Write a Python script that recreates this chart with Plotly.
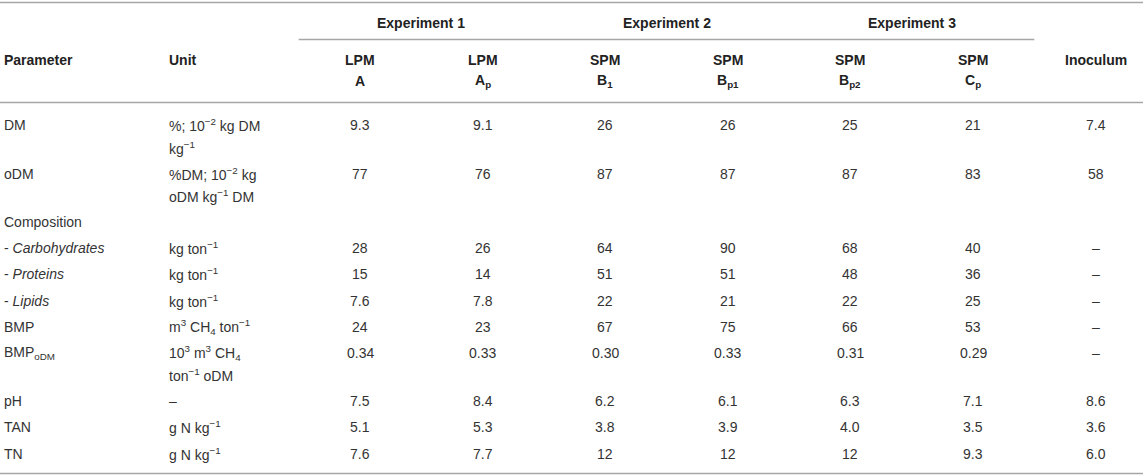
import plotly.graph_objects as go

# ---------------- data ----------------
experiments = ["Experiment 1", "Experiment 2", "Experiment 3"]
manure_types = ["LPM", "LPM", "SPM", "SPM", "SPM", "SPM"]
sample_ids = ["A", "A<sub>p</sub>", "B<sub>1</sub>", "B<sub>p1</sub>", "B<sub>p2</sub>", "C<sub>p</sub>"]
last_header = "Inoculum"

parameters = ["DM", "oDM", "Composition", "- <i>Carbohydrates</i>", "- <i>Proteins</i>",
              "- <i>Lipids</i>", "BMP", "BMP<sub>oDM</sub>", "pH", "TAN", "TN"]
units = [
    ["%; 10<sup>−2</sup> kg DM", "kg<sup>−1</sup>"],
    ["%DM; 10<sup>−2</sup> kg", "oDM kg<sup>−1</sup> DM"],
    [""],
    ["kg ton<sup>−1</sup>"],
    ["kg ton<sup>−1</sup>"],
    ["kg ton<sup>−1</sup>"],
    ["m<sup>3</sup> CH<sub>4</sub> ton<sup>−1</sup>"],
    ["10<sup>3</sup> m<sup>3</sup> CH<sub>4</sub>", "ton<sup>−1</sup> oDM"],
    ["–"],
    ["g N kg<sup>−1</sup>"],
    ["g N kg<sup>−1</sup>"],
]
lpm_a = ["9.3", "77", "", "28", "15", "7.6", "24", "0.34", "7.5", "5.1", "7.6"]
lpm_ap = ["9.1", "76", "", "26", "14", "7.8", "23", "0.33", "8.4", "5.3", "7.7"]
spm_b1 = ["26", "87", "", "64", "51", "22", "67", "0.30", "6.2", "3.8", "12"]
spm_bp1 = ["26", "87", "", "90", "51", "21", "75", "0.33", "6.1", "3.9", "12"]
spm_bp2 = ["25", "87", "", "68", "48", "22", "66", "0.31", "6.3", "4.0", "12"]
spm_cp = ["21", "83", "", "40", "36", "25", "53", "0.29", "7.1", "3.5", "9.3"]
inoculum = ["7.4", "58", "", "–", "–", "–", "–", "–", "8.6", "3.6", "6.0"]

value_columns = [lpm_a, lpm_ap, spm_b1, spm_bp1, spm_bp2, spm_cp, inoculum]

# ---------------- layout constants ----------------
W, H = 1143, 476
FONT = "Liberation Sans, Arial, Helvetica, sans-serif"
FS = 14
TXT = "#333333"
HDR = "#222222"
LINE = "#a6a6a6"

x_param = 2
x_unit = 167
col0 = 360
col_step = 122.6
col_x = [col0 + i * col_step for i in range(len(value_columns))]
half = col_step / 2

y_top_line = 2.5
y_exp = 23
y_exp_line = 39.5
y_h1 = 60
y_h2 = 81
y_head_line = 102.5
y_first = 125
row_base = 26.1
line_gap = 22.5
y_bottom_line = 473.5

annotations = []
shapes = []


def add_text(x, y, text, xanchor="center", bold=False, color=TXT):
    if text == "":
        return
    annotations.append(dict(
        x=x, y=y, xref="x", yref="y", text=(f"<b>{text}</b>" if bold else text),
        showarrow=False, xanchor=xanchor, yanchor="middle",
        font=dict(family=FONT, size=FS, color=color),
    ))


def add_hline(x0, x1, y, width=1.5):
    shapes.append(dict(type="line", xref="x", yref="y", x0=x0, x1=x1, y0=y, y1=y,
                       line=dict(color=LINE, width=width)))


# horizontal rules
add_hline(0, W, y_top_line, 1.6)
add_hline(col_x[0] - half, col_x[5] + half, y_exp_line, 1.3)
add_hline(0, W, y_head_line, 1.6)
add_hline(0, W, y_bottom_line, 1.6)

# headers
for i, e in enumerate(experiments):
    add_text((col_x[2 * i] + col_x[2 * i + 1]) / 2, y_exp, e, bold=True, color=HDR)
add_text(x_param, y_h1, "Parameter", xanchor="left", bold=True, color=HDR)
add_text(x_unit, y_h1, "Unit", xanchor="left", bold=True, color=HDR)
for i, (m, s) in enumerate(zip(manure_types, sample_ids)):
    add_text(col_x[i], y_h1, m, bold=True, color=HDR)
    add_text(col_x[i], y_h2, s, bold=True, color=HDR)
add_text(col_x[6], y_h1, last_header, bold=True, color=HDR)

# body
y = y_first
for r, p in enumerate(parameters):
    add_text(x_param, y, p, xanchor="left")
    for k, ln in enumerate(units[r]):
        add_text(x_unit, y + k * line_gap, ln, xanchor="left")
    for c, col in enumerate(value_columns):
        add_text(col_x[c], y, col[r])
    y += row_base + (len(units[r]) - 1) * line_gap

fig = go.Figure()
fig.update_layout(
    width=W, height=H,
    margin=dict(l=0, r=0, t=0, b=0),
    paper_bgcolor="white", plot_bgcolor="white",
    xaxis=dict(range=[0, W], visible=False, fixedrange=True),
    yaxis=dict(range=[H, 0], visible=False, fixedrange=True),
    annotations=annotations, shapes=shapes,
    showlegend=False,
)
fig.write_html(
    "out.html",
    config={"displayModeBar": False, "staticPlot": True},
    post_script="document.body.style.margin='0';document.body.style.overflow='hidden';",
)
